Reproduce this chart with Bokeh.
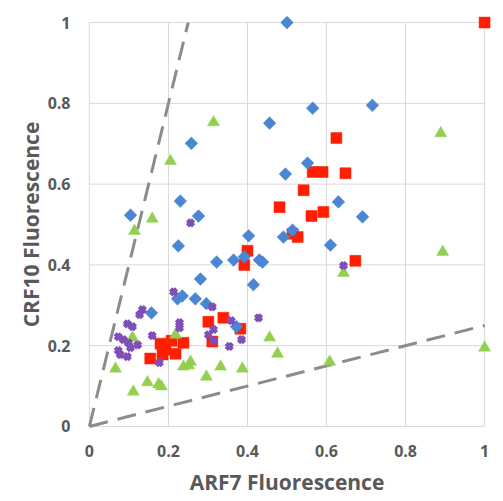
import math
from bokeh.plotting import figure
from bokeh.models import Range1d, FixedTicker
from bokeh.embed import file_html
from bokeh.resources import INLINE

# ---- data (ARF7 fluorescence, CRF10 fluorescence) ----
blue_x = [0.50, 0.565, 0.716, 0.456, 0.258, 0.496, 0.230, 0.104, 0.276, 0.552,
          0.630, 0.691, 0.514, 0.491, 0.610, 0.403, 0.225, 0.322, 0.365, 0.392,
          0.430, 0.438, 0.415, 0.281, 0.223, 0.235, 0.268, 0.296, 0.157, 0.372]
blue_y = [1.00, 0.788, 0.795, 0.751, 0.701, 0.625, 0.558, 0.523, 0.521, 0.652,
          0.556, 0.519, 0.486, 0.469, 0.449, 0.472, 0.447, 0.407, 0.412, 0.420,
          0.412, 0.407, 0.351, 0.365, 0.316, 0.323, 0.316, 0.304, 0.281, 0.247]

red_x = [1.00, 0.625, 0.565, 0.590, 0.648, 0.542, 0.481, 0.592, 0.562, 0.514,
         0.527, 0.673, 0.400, 0.392, 0.301, 0.339, 0.382, 0.311, 0.154, 0.185,
         0.192, 0.218, 0.180, 0.208, 0.238]
red_y = [1.00, 0.714, 0.630, 0.630, 0.627, 0.585, 0.543, 0.531, 0.521, 0.477,
         0.469, 0.410, 0.435, 0.400, 0.259, 0.269, 0.242, 0.210, 0.168, 0.178,
         0.190, 0.180, 0.205, 0.212, 0.207]

green_x = [0.314, 0.205, 0.159, 0.114, 0.889, 0.894, 0.643, 1.00, 0.608, 0.456,
           0.476, 0.218, 0.109, 0.066, 0.111, 0.147, 0.175, 0.182, 0.238, 0.256,
           0.251, 0.296, 0.332, 0.387]
green_y = [0.753, 0.657, 0.514, 0.484, 0.726, 0.432, 0.380, 0.195, 0.160, 0.220,
           0.180, 0.227, 0.220, 0.143, 0.086, 0.109, 0.104, 0.099, 0.148, 0.160,
           0.151, 0.123, 0.148, 0.143]

purple_x = [0.643, 0.256, 0.213, 0.311, 0.428, 0.134, 0.127, 0.096, 0.109, 0.228,
            0.228, 0.359, 0.314, 0.301, 0.314, 0.159, 0.073, 0.086, 0.099, 0.122,
            0.104, 0.073, 0.078, 0.096, 0.385, 0.354, 0.177]
purple_y = [0.398, 0.504, 0.333, 0.296, 0.269, 0.289, 0.277, 0.254, 0.247, 0.257,
            0.244, 0.262, 0.240, 0.227, 0.212, 0.225, 0.222, 0.215, 0.207, 0.202,
            0.195, 0.188, 0.178, 0.173, 0.215, 0.198, 0.158]

# guide lines: CRF10 = 4 * ARF7 and CRF10 = 0.25 * ARF7
guide_hi_x = [0, 0.25]
guide_hi_y = [0, 1]
guide_lo_x = [0, 1]
guide_lo_y = [0, 0.25]

x_ticks = [0, 0.2, 0.4, 0.6, 0.8, 1]
y_ticks = [0, 0.2, 0.4, 0.6, 0.8, 1]
x_tick_labels = ["0", "0.2", "0.4", "0.6", "0.8", "1"]
y_tick_labels = ["0", "0.2", "0.4", "0.6", "0.8", "1"]

FONT = "Open Sans"
TXT = "#595959"
GRID = "#d9d9d9"

p = figure(width=495, height=498, output_backend="svg", toolbar_location=None,
           x_range=Range1d(-0.02, 1.02), y_range=Range1d(-0.02, 1.02),
           min_border_left=81, min_border_right=3, min_border_top=14,
           min_border_bottom=58)
p.outline_line_color = None
p.xgrid.visible = False
p.ygrid.visible = False
p.background_fill_color = "white"
p.border_fill_color = "white"

# gridlines spanning exactly the 0..1 data box
p.segment(x0=x_ticks, y0=[y_ticks[0]] * len(x_ticks), x1=x_ticks,
          y1=[y_ticks[-1]] * len(x_ticks), line_color=GRID, line_width=1)
p.segment(x0=[x_ticks[0]] * len(y_ticks), y0=y_ticks, x1=[x_ticks[-1]] * len(y_ticks),
          y1=y_ticks, line_color=GRID, line_width=1)

for ax, ticks, labels in ((p.xaxis[0], x_ticks, x_tick_labels),
                          (p.yaxis[0], y_ticks, y_tick_labels)):
    ax.ticker = FixedTicker(ticks=ticks)
    ax.major_label_overrides = {t: l for t, l in zip(ticks, labels)}
    ax.axis_line_color = None
    ax.major_tick_line_color = None
    ax.minor_tick_line_color = None
    ax.major_tick_out = 0
    ax.major_tick_in = 0
    ax.major_label_text_font = FONT
    ax.major_label_text_font_style = "bold"
    ax.major_label_text_font_size = "16px"
    ax.major_label_text_color = TXT
    ax.axis_label_text_font = FONT
    ax.axis_label_text_font_style = "bold"
    ax.axis_label_text_font_size = "21px"
    ax.axis_label_text_color = TXT

p.xaxis.axis_label = "ARF7 Fluorescence"
p.yaxis.axis_label = "CRF10 Fluorescence"
p.xaxis.major_label_standoff = 10
p.xaxis.axis_label_standoff = 8
p.yaxis.major_label_standoff = 11
p.yaxis.axis_label_standoff = 0

p.line(guide_hi_x, guide_hi_y, line_color="#8c8c8c", line_width=3, line_dash="19 10")
p.line(guide_lo_x, guide_lo_y, line_color="#8c8c8c", line_width=3, line_dash="19 10")

p.scatter(red_x, red_y, marker="square", size=11, fill_color="#FF1F00",
          line_color="#FF1F00", line_width=0.5)
p.scatter(blue_x, blue_y, marker="square", angle=math.pi / 4, size=9,
          fill_color="#4A86D4", line_color="#4A86D4", line_width=0.5)
p.scatter(green_x, green_y, marker="triangle", size=12, fill_color="#92D050",
          line_color="#92D050", line_width=0.5)
p.scatter(purple_x, purple_y, marker="x", size=8.5, line_color="#7F4FB8",
          line_width=4.5)

open("out.html", "w").write(file_html(p, INLINE))
